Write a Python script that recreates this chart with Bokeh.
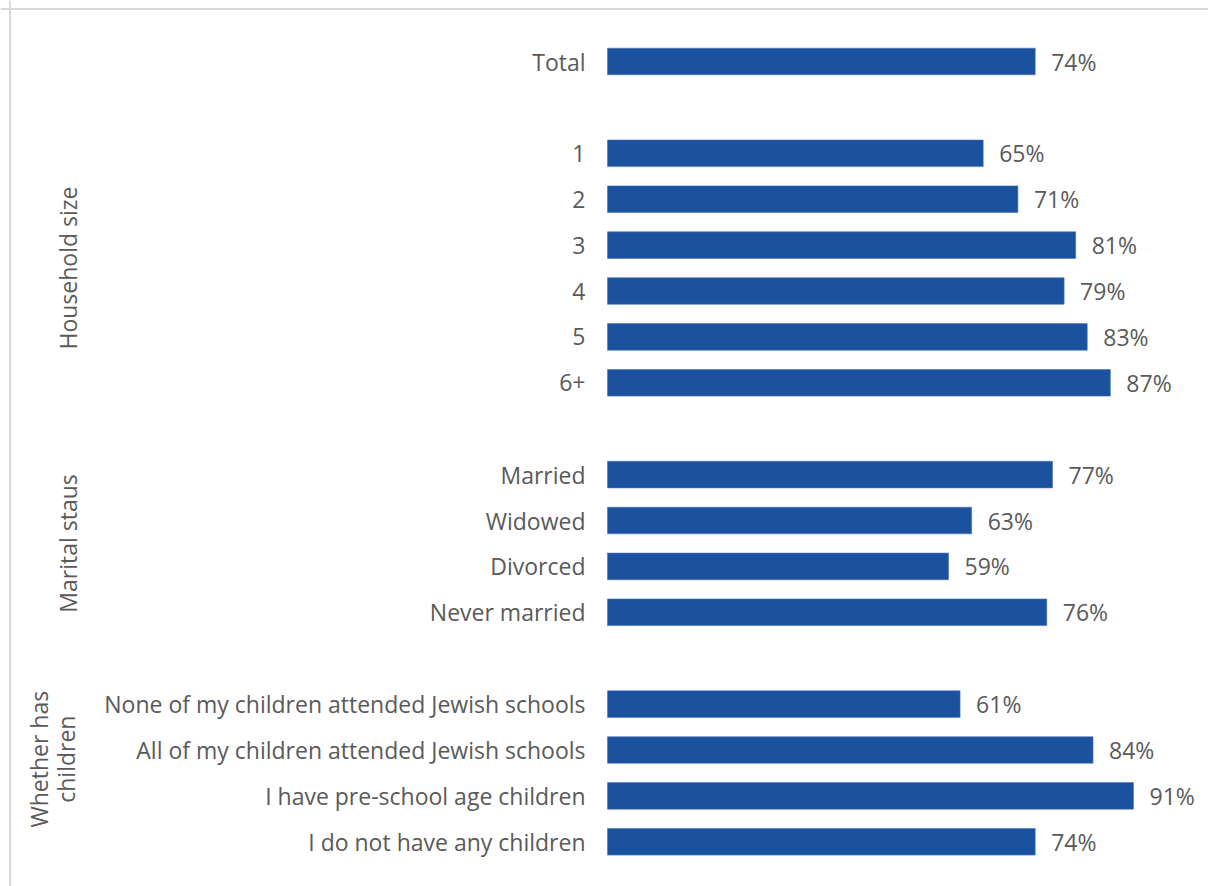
import math
from bokeh.plotting import figure
from bokeh.models import Range1d, ColumnDataSource, Span
from bokeh.core.properties import value
from bokeh.embed import file_html
from bokeh.resources import INLINE

# ---- data ----
categories = [
    "Total",
    "1", "2", "3", "4", "5", "6+",
    "Married", "Widowed", "Divorced", "Never married",
    "None of my children attended Jewish schools",
    "All of my children attended Jewish schools",
    "I have pre-school age children",
    "I do not have any children",
]
values = [74, 65, 71, 81, 79, 83, 87, 77, 63, 59, 76, 61, 84, 91, 74]
# row slot of each category (blank slots separate groups)
rows = [0, 2, 3, 4, 5, 6, 7, 9, 10, 11, 12, 14, 15, 16, 17]
groups = ["Household size", "Marital staus", "Whether has\nchildren"]
group_rows = [4.5, 10.5, 15.2]

# ---- geometry ----
W, H = 1208, 886
PX_PER_PCT = 5.78
ORIGIN_PX = 607          # x of the bars' base inside the figure
ROW_PX = 45.9
TOP_ROW_PX = 61
FONT = "Open Sans"
FS = "23px"
TXT = "#5A5A5A"
BAR = "#1B52A0"

x0 = -ORIGIN_PX / PX_PER_PCT
x1 = (W - ORIGIN_PX) / PX_PER_PCT
ytop = -TOP_ROW_PX / ROW_PX
ybot = ytop + H / ROW_PX

p = figure(width=W, height=H, output_backend="svg", toolbar_location=None,
           x_range=Range1d(x0, x1), y_range=Range1d(ybot, ytop),
           min_border=0, min_border_left=0, min_border_right=0,
           min_border_top=0, min_border_bottom=0)
p.axis.visible = False
p.grid.visible = False
p.outline_line_color = None
p.background_fill_color = "white"
p.border_fill_color = "white"

src = ColumnDataSource(dict(
    cat=categories, val=values, row=rows,
    lab=[f"{v}%" for v in values],
))

p.hbar(y="row", left=0, right="val", height=0.58, source=src,
       fill_color=BAR, line_color="#4A74B8", line_width=0.6)

# category labels
p.text(x=-22 / PX_PER_PCT, y="row", text="cat", source=src,
       text_align="right", text_baseline="middle",
       text_font=value(FONT), text_font_size=FS, text_color=TXT)

# value labels
vsrc = ColumnDataSource(dict(x=[v + 16 / PX_PER_PCT for v in values], row=rows, lab=src.data["lab"]))
p.text(x="x", y="row", text="lab", source=vsrc,
       text_align="left", text_baseline="middle",
       text_font=value(FONT), text_font_size=FS, text_color=TXT)

# group labels (rotated)
gx = [x0 + 67 / PX_PER_PCT, x0 + 67 / PX_PER_PCT, x0 + 52 / PX_PER_PCT]
p.text(x=gx, y=group_rows, text=groups, angle=math.pi / 2,
       text_align="center", text_baseline="middle", text_line_height=0.85,
       text_font=value(FONT), text_font_size=FS, text_color=TXT)

# chart-area border (top and left edges)
p.add_layout(Span(location=x0 + 9.5 / PX_PER_PCT, dimension="height",
                  line_color="#D9D9D9", line_width=2))
p.add_layout(Span(location=ytop + 8.5 / ROW_PX, dimension="width",
                  line_color="#D9D9D9", line_width=2))

open("out.html", "w").write(file_html(p, INLINE))
